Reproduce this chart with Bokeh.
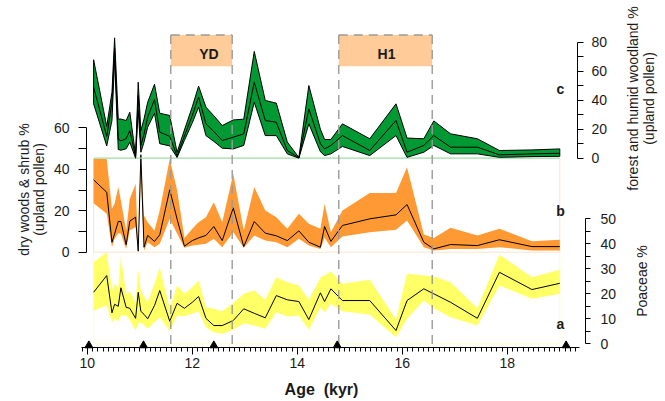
import math
from bokeh.plotting import figure
from bokeh.models import Range1d, LinearAxis, FixedTicker, Label
from bokeh.embed import file_html
from bokeh.resources import INLINE

# ---------------- data ----------------
age = [10.12, 10.37, 10.47, 10.52, 10.59, 10.64, 10.74, 10.81, 10.92, 10.97,
       11.02, 11.08, 11.15, 11.28, 11.38, 11.57, 11.71, 11.85, 12.00, 12.12,
       12.26, 12.41, 12.57, 12.78, 12.98, 13.18, 13.39, 13.60, 13.81, 14.03,
       14.22, 14.44, 14.52, 14.64, 14.86, 15.38, 15.88, 16.09, 16.41, 16.60,
       16.92, 17.43, 17.85, 18.47, 19.00]

# c: forest and humid woodland % (upland pollen)
green_hi = [67.9, 22.0, 45.5, 83.0, 27.0, 27.0, 26.0, 31.7, 2.0, 52.4,
            19.0, 27.0, 38.6, 51.0, 31.0, 29.5, 4.0, 19.5, 35.5, 49.7,
            35.2, 29.3, 22.5, 26.4, 26.9, 73.6, 39.8, 38.0, 11.1, 0.5,
            50.1, 20.0, 12.9, 12.9, 23.7, 13.4, 37.5, 13.9, 13.4, 25.7,
            16.8, 13.4, 5.3, 5.7, 6.4]
green_mid = [49.0, 15.0, 38.6, 76.0, 13.0, 12.0, 13.4, 19.1, 1.0, 43.2,
             8.8, 16.5, 28.3, 40.5, 18.0, 15.0, 1.5, 15.3, 29.5, 42.1,
             23.7, 18.4, 12.2, 14.5, 16.8, 52.4, 26.0, 24.8, 5.3, 0.3,
             34.0, 10.0, 6.4, 8.8, 15.6, 5.3, 26.0, 4.1, 8.8, 15.6,
             7.6, 7.6, 2.3, 3.0, 3.4]
green_lo = [37.5, 8.5, 26.0, 68.0, 6.0, 5.5, 6.5, 11.0, 0.0, 32.9,
            4.1, 11.0, 21.4, 31.0, 10.0, 8.5, 0.5, 12.3, 24.4, 35.2,
            15.6, 11.6, 6.9, 6.4, 8.8, 38.6, 15.6, 15.6, 3.0, 0.0,
            23.7, 4.5, 1.8, 3.0, 8.1, 1.8, 15.6, 0.6, 4.1, 8.8,
            3.0, 3.0, 0.6, 1.1, 1.3]

# b: dry woods & shrub % (upland pollen)
orange_hi = [45.0, 45.0, 20.9, 23.5, 31.4, 24.9, 10.5, 25.8, 33.0, 1.5,
             47.0, 17.7, 14.5, 10.5, 20.1, 45.0, 30.0, 6.9, 11.3, 14.5,
             16.9, 24.1, 14.5, 37.8, 10.5, 31.4, 20.1, 16.9, 11.3, 18.5,
             13.7, 11.3, 23.3, 9.6, 20.1, 28.5, 28.5, 41.0, 8.5, 6.9,
             11.8, 8.1, 11.3, 5.3, 6.0]
orange_mid = [34.9, 28.9, 4.8, 8.9, 14.8, 14.8, 3.6, 15.0, 16.9, 0.5,
              47.0, 2.4, 8.1, 5.2, 8.4, 30.1, 16.0, 2.9, 5.6, 6.9,
              8.1, 12.4, 5.6, 21.4, 2.7, 14.8, 9.2, 7.9, 5.6, 10.3,
              4.8, 2.4, 12.4, 5.2, 12.9, 16.1, 18.0, 23.0, 4.8, 1.6,
              3.7, 3.2, 6.0, 2.7, 2.7]
orange_lo = [23.6, 18.5, 2.4, 6.5, 9.2, 8.9, 1.6, 10.5, 12.1, 0.0,
             38.0, 0.8, 4.8, 2.4, 4.1, 16.1, 9.0, 2.1, 3.2, 3.6,
             4.1, 6.5, 2.4, 9.6, 2.1, 8.1, 5.6, 4.8, 2.4, 6.5,
             3.2, 1.6, 7.0, 2.4, 7.6, 9.6, 10.8, 15.3, 2.4, 0.8,
             1.6, 1.6, 2.4, 0.8, 0.8]

# a: Poaceae %
yellow_hi = [32.6, 36.6, 21.3, 24.0, 22.0, 34.6, 20.0, 21.0, 16.6, 29.6,
             21.3, 19.0, 16.6, 24.0, 30.6, 14.0, 23.3, 20.0, 22.6, 25.3,
             14.6, 14.0, 13.0, 16.2, 20.0, 21.3, 17.6, 26.6, 24.6, 23.3,
             17.6, 26.4, 27.3, 29.0, 24.0, 25.6, 9.7, 28.0, 27.3, 26.9,
             24.6, 14.2, 35.7, 26.6, 29.6]
yellow_mid = [20.6, 27.3, 12.4, 15.8, 15.0, 22.4, 14.6, 14.2, 10.2, 20.6,
              13.0, 11.8, 10.0, 15.3, 21.3, 9.0, 16.2, 14.2, 16.6, 18.9,
              10.2, 7.3, 7.3, 9.3, 14.0, 12.2, 10.4, 19.3, 17.6, 16.9,
              9.7, 20.4, 16.9, 22.0, 17.3, 17.3, 5.3, 17.3, 22.0, 20.0,
              16.6, 10.2, 28.6, 21.7, 24.2]
yellow_lo = [13.3, 15.3, 8.6, 10.0, 9.0, 11.3, 11.3, 9.5, 5.3, 8.0,
             8.5, 7.5, 6.0, 8.6, 10.6, 5.0, 11.3, 11.0, 12.0, 12.9,
             6.6, 4.6, 4.0, 5.6, 8.2, 7.3, 6.0, 12.6, 10.9, 11.3,
             5.6, 14.6, 12.6, 16.0, 13.0, 11.7, 2.6, 10.0, 17.3, 14.2,
             10.6, 7.3, 23.3, 18.0, 20.0]

events = ["YD", "H1"]
ev_start = [11.59, 14.79]
ev_end = [12.76, 16.57]
ctrl_age = [10.03, 11.07, 12.41, 14.76, 19.12]

x_ticks = [10, 12, 14, 16, 18]
x_minor = [round(9.9 + 0.1 * i, 1) for i in range(95)]
green_ticks, green_minor = [0, 20, 40, 60, 80], [10, 30, 50, 70]
orange_ticks, orange_minor = [0, 20, 40, 60], [10, 30, 50]
poa_ticks, poa_minor = [0, 10, 20, 30, 40, 50], [5, 15, 25, 35, 45]

# ---------------- layout (page pixel anchors) ----------------
W, H = 665, 401
L0, T0 = 0, 0
X0_PX, PX_PER_KYR = 86.8, 52.5
age_lo = 10 + (L0 - X0_PX) / PX_PER_KYR
age_hi = 10 + (L0 + W - X0_PX) / PX_PER_KYR


def vrange(v0, p0, v1, p1):
    k = (p0 - p1) / (v1 - v0)
    start = v0 - (T0 + H - p0) / k
    return Range1d(start=start, end=start + H / k)


FONT = "Liberation Sans"
INK = "#1a1a1a"

p = figure(width=W, height=H, output_backend="svg", toolbar_location=None,
           x_range=Range1d(age_lo, age_hi), y_range=Range1d(T0 + H, T0),
           x_axis_location=None, y_axis_location=None, min_border=0,
           outline_line_color=None, background_fill_color="white",
           border_fill_color="white")
p.grid.visible = False
p.extra_x_ranges = {"px": Range1d(L0, L0 + W)}
p.extra_y_ranges = {
    "green": vrange(0, 157.7, 80, 41.7),
    "orange": vrange(0, 251.7, 60, 127.3),
    "poa": vrange(0, 343.3, 50, 218.3),
}

X_AXIS_Y = 347.3
BOX_TOP, BOX_BOT = 34.5, 65.7

# event boxes
p.quad(left=ev_start, right=ev_end, top=BOX_TOP, bottom=BOX_BOT,
       fill_color="#ffcc99", line_color=None)

# panel frames
a0, a1 = age[0], age[-1]
p.line([a0, a0, a1, a1], [45, 0, 0, 45], y_range_name="orange",
       line_color="#fde2cc", line_width=1)
p.line([a0, a0, a1, a1], [36.6, 0, 0, 36.6], y_range_name="poa",
       line_color="#ffffc4", line_width=1)

# bands
p.varea(x=age, y1=yellow_lo, y2=yellow_hi, y_range_name="poa",
        fill_color="#ffff66")
p.line(age, yellow_mid, y_range_name="poa", line_color="black", line_width=1)

p.varea(x=age, y1=orange_lo, y2=orange_hi, y_range_name="orange",
        fill_color="#ff9933")
p.line(age, orange_mid, y_range_name="orange", line_color="black", line_width=1)

p.line([a0, a1], [0, 0], y_range_name="green", line_color="#9edca6", line_width=1.2)
p.patch(x=age + age[::-1], y=green_hi + green_lo[::-1], y_range_name="green",
        fill_color="#009933", line_color="black", line_width=1)
p.line(age, green_mid, y_range_name="green", line_color="black", line_width=1)

# dashed event boundaries
bounds_age = ev_start + ev_end
p.segment(x0=bounds_age, x1=bounds_age, y0=BOX_TOP, y1=X_AXIS_Y,
          line_color="#9a9a9a", line_width=1.4, line_dash="9 6")
p.segment(x0=ev_start, x1=ev_end, y0=BOX_TOP, y1=BOX_TOP,
          line_color="#9a9a9a", line_width=1.4, line_dash="9 6")

# age control points
p.scatter(ctrl_age, [X_AXIS_Y - 2.3] * len(ctrl_age), marker="triangle",
          size=8, fill_color="black", line_color="black")


def style_axis(ax, tick_out, minor_out, standoff):
    ax.axis_line_color = "black"
    ax.major_tick_line_color = "black"
    ax.minor_tick_line_color = "black"
    ax.major_tick_in = 0
    ax.minor_tick_in = 0
    ax.major_tick_out = tick_out
    ax.minor_tick_out = minor_out
    ax.major_label_standoff = standoff
    ax.major_label_text_font = FONT
    ax.major_label_text_font_size = "14px"
    ax.major_label_text_color = INK


xaxis = LinearAxis(fixed_location=X_AXIS_Y, bounds=(9.88, 19.38),
                   ticker=FixedTicker(ticks=x_ticks, minor_ticks=x_minor))
style_axis(xaxis, 7, 4, 3)
p.add_layout(xaxis, "below")

left = LinearAxis(y_range_name="orange", x_range_name="px", fixed_location=86,
                  bounds=(0, 60),
                  ticker=FixedTicker(ticks=orange_ticks, minor_ticks=orange_minor))
style_axis(left, 8, 8, 9)
p.add_layout(left, "left")

rg = LinearAxis(y_range_name="green", x_range_name="px", fixed_location=577,
                bounds=(0, 80),
                ticker=FixedTicker(ticks=green_ticks, minor_ticks=green_minor))
style_axis(rg, 6, 6, 8)
p.add_layout(rg, "right")

rp = LinearAxis(y_range_name="poa", x_range_name="px", fixed_location=585,
                bounds=(0, 50),
                ticker=FixedTicker(ticks=poa_ticks, minor_ticks=poa_minor))
style_axis(rp, 5, 5, 10)
p.add_layout(rp, "right")


def lab(text, x, y, angle=0.0, size="14px", bold=False, baseline="middle"):
    p.add_layout(Label(x=x, y=y, x_range_name="px", text=text, angle=angle,
                       text_align="center", text_baseline=baseline,
                       text_font=FONT, text_font_size=size, text_color=INK,
                       text_font_style="bold" if bold else "normal"))


lab("dry woods & shrub %", 23, 189, math.pi / 2)
lab("(upland pollen)", 38, 189, math.pi / 2)
lab("forest and humid woodland %", 632, 98, math.pi / 2)
lab("(upland pollen)", 648, 98, math.pi / 2)
lab("Poaceae %", 641, 280.5, math.pi / 2)
lab("Age\u00a0\u00a0(kyr)", 321, 388.5, size="16px", bold=True)
lab("c", 560, 88.5, bold=True)
lab("b", 560, 210, bold=True)
lab("a", 560, 323, bold=True)
lab(events[0], 208.5, 53, bold=True)
lab(events[1], 386, 53, bold=True)

open("out.html", "w").write(file_html(p, INLINE))
